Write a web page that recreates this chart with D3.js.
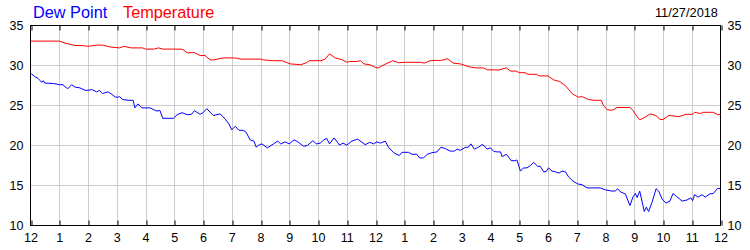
<!DOCTYPE html>
<html>
<head>
<meta charset="utf-8">
<script src="https://cdn.jsdelivr.net/npm/d3@7"></script>
<style>
  body { margin: 0; background: #fff; }
  svg { font-family: "Liberation Sans", Arial, sans-serif; }
  .grid line { stroke: #cccccc; stroke-width: 1; }
</style>
</head>
<body>
<div id="chart"></div>
<script>
// hour labels along the bottom (midnight to midnight)
var hourLabels = ['12','1','2','3','4','5','6','7','8','9','10','11','12','1','2','3','4','5','6','7','8','9','10','11','12'];
var yTicks = [10, 15, 20, 25, 30, 35];
var dateLabel = '11/27/2018';

// temperature readings (hours since midnight, value)
var tempHours = [0, 1.0, 1.2, 1.55, 1.8, 2.0, 2.3, 2.5, 2.8, 3.1, 3.25, 3.5, 3.9, 4.0, 4.3, 4.45, 4.6, 5.2, 5.3, 5.45, 5.7, 5.9, 6.07, 6.25, 6.37, 6.5, 6.7, 7.05, 7.2, 7.3, 8.0, 8.1, 8.4, 8.75, 9.03, 9.4, 9.6, 9.7, 10.1, 10.25, 10.4, 10.6, 10.85, 11.0, 11.1, 11.35, 11.47, 11.6, 11.8, 12.0, 12.1, 12.3, 12.6, 12.8, 13.04, 13.56, 13.7, 13.9, 14.15, 14.25, 14.5, 14.7, 14.95, 15.3, 15.5, 15.75, 15.9, 16.3, 16.55, 16.7, 16.9, 17.0, 17.2, 17.3, 17.6, 17.7, 18.0, 18.2, 18.4, 18.6, 18.85, 19.05, 19.2, 19.4, 19.6, 19.85, 19.93, 20.05, 20.2, 20.3, 20.4, 20.85, 20.95, 21.1, 21.2, 21.4, 21.56, 21.75, 21.9, 22.0, 22.2, 22.35, 22.55, 22.8, 23.03, 23.1, 23.3, 23.4, 23.65, 23.75, 23.9, 24.0];
var tempValues = [33.05, 33.05, 32.8, 32.5, 32.5, 32.4, 32.55, 32.55, 32.3, 32.2, 32.4, 32.2, 32.2, 32.05, 32.05, 32.2, 32.05, 32.05, 32.0, 31.6, 31.6, 31.25, 31.25, 30.7, 30.7, 30.8, 30.95, 30.95, 30.9, 30.8, 30.8, 30.7, 30.6, 30.6, 30.2, 30.1, 30.35, 30.6, 30.6, 30.8, 31.45, 30.95, 30.7, 30.4, 30.5, 30.5, 30.6, 30.2, 30.1, 29.75, 29.7, 30.1, 30.6, 30.35, 30.4, 30.4, 30.3, 30.6, 30.65, 30.6, 30.85, 30.3, 30.2, 29.8, 29.7, 29.7, 29.45, 29.45, 29.7, 29.3, 29.3, 29.1, 29.1, 28.9, 28.9, 28.7, 28.7, 28.2, 28.0, 27.5, 26.45, 26.05, 26.1, 25.75, 25.65, 25.65, 25.0, 24.5, 24.4, 24.5, 24.75, 24.75, 24.4, 23.6, 23.2, 23.6, 23.95, 23.75, 23.25, 23.25, 23.75, 23.7, 23.6, 23.9, 23.9, 24.15, 24.0, 24.15, 24.15, 24.15, 23.85, 23.85];

// dew point readings (hours since midnight, value)
var dewHours = [0, 0.04, 0.15, 0.26, 0.39, 0.44, 0.5, 0.8, 1.0, 1.13, 1.2, 1.3, 1.43, 1.55, 1.72, 1.9, 2.0, 2.13, 2.3, 2.4, 2.5, 2.7, 2.83, 2.95, 3.05, 3.1, 3.2, 3.4, 3.57, 3.63, 3.74, 3.87, 4.05, 4.16, 4.27, 4.4, 4.5, 4.6, 4.85, 4.97, 5.1, 5.27, 5.45, 5.6, 5.7, 5.9, 6.0, 6.13, 6.36, 6.6, 6.77, 6.9, 7.0, 7.12, 7.25, 7.4, 7.5, 7.64, 7.77, 7.85, 7.96, 8.05, 8.24, 8.45, 8.6, 8.7, 8.86, 9.0, 9.17, 9.3, 9.5, 9.63, 9.82, 9.94, 10.08, 10.2, 10.3, 10.4, 10.56, 10.75, 10.87, 11.0, 11.18, 11.38, 11.53, 11.64, 11.8, 11.93, 12.05, 12.17, 12.34, 12.45, 12.63, 12.83, 12.92, 13.15, 13.27, 13.44, 13.53, 13.67, 13.8, 13.96, 14.14, 14.28, 14.43, 14.6, 14.74, 14.84, 14.95, 15.12, 15.23, 15.32, 15.44, 15.59, 15.7, 15.76, 15.88, 16.0, 16.12, 16.23, 16.35, 16.4, 16.55, 16.63, 16.72, 16.86, 16.92, 17.04, 17.15, 17.27, 17.39, 17.5, 17.64, 17.73, 17.85, 17.94, 18.02, 18.14, 18.26, 18.38, 18.49, 18.61, 18.72, 18.87, 19.03, 19.18, 19.36, 19.82, 20.0, 20.23, 20.34, 20.42, 20.52, 20.69, 20.85, 20.96, 21.04, 21.1, 21.19, 21.35, 21.42, 21.5, 21.62, 21.76, 21.85, 21.97, 22.1, 22.24, 22.35, 22.48, 22.67, 22.84, 22.97, 23.03, 23.1, 23.22, 23.36, 23.47, 23.63, 23.75, 23.9, 24.0];
var dewValues = [28.95, 28.95, 28.6, 28.4, 27.9, 28.1, 27.8, 27.75, 27.6, 27.6, 27.35, 27.1, 27.6, 27.3, 27.2, 26.9, 26.9, 27.0, 26.7, 26.9, 26.5, 26.7, 26.4, 26.05, 26.05, 26.1, 25.75, 25.65, 25.65, 24.7, 25.2, 24.7, 24.7, 24.7, 24.5, 24.3, 24.4, 23.4, 23.4, 23.4, 23.85, 24.1, 23.85, 23.9, 24.35, 23.9, 24.1, 24.6, 23.75, 23.95, 23.3, 22.7, 21.95, 22.4, 21.9, 21.9, 21.65, 20.7, 20.55, 19.8, 20.1, 20.2, 19.7, 20.2, 20.55, 20.2, 20.45, 20.2, 20.7, 20.45, 19.9, 20.0, 20.6, 20.2, 20.3, 20.7, 20.9, 20.2, 20.95, 20.05, 20.3, 20.05, 20.55, 20.8, 20.4, 20.1, 20.4, 20.2, 20.45, 20.3, 20.55, 19.8, 19.1, 18.75, 19.15, 19.15, 18.9, 18.9, 18.45, 18.45, 18.9, 19.1, 19.2, 19.8, 19.6, 19.3, 19.3, 19.55, 19.4, 19.75, 19.8, 20.2, 19.55, 19.8, 20.1, 20.05, 19.55, 19.7, 19.25, 19.2, 19.2, 18.6, 18.9, 18.55, 18.1, 18.1, 18.2, 16.8, 17.2, 17.2, 17.5, 17.9, 17.4, 17.4, 16.7, 16.75, 17.2, 16.8, 16.7, 16.55, 16.8, 16.7, 16.05, 15.55, 15.2, 15.1, 14.7, 14.7, 14.45, 14.3, 14.3, 14.6, 14.2, 13.95, 12.5, 13.6, 14.0, 13.5, 14.3, 11.75, 12.3, 11.75, 12.9, 14.6, 14.3, 13.3, 12.8, 13.05, 14.0, 13.6, 13.05, 13.2, 13.45, 13.1, 13.85, 13.55, 13.85, 13.55, 13.95, 14.0, 14.65, 14.6];

var width = 750, height = 250;
var plotLeft = 30.5, plotRight = 720.5, plotTop = 25.5, plotBottom = 225.5;

var svg = d3.select("#chart")
  .append("svg")
  .attr("width", width)
  .attr("height", height);

var x = d3.scaleLinear().domain([0, 24]).range([plotLeft, plotRight]);
var y = d3.scaleLinear().domain([10, 35]).range([plotBottom, plotTop]);
var hours = d3.range(0, 25);

// grid
var grid = svg.append("g").attr("class", "grid");
grid.selectAll(".vg")
  .data(hours.slice(1, 24))
  .enter().append("line")
  .attr("x1", d => Math.round(x(d)) + 0.5).attr("x2", d => Math.round(x(d)) + 0.5)
  .attr("y1", plotTop).attr("y2", plotBottom);
grid.selectAll(".hg")
  .data(yTicks.slice(1, yTicks.length - 1))
  .enter().append("line")
  .attr("x1", plotLeft).attr("x2", plotRight)
  .attr("y1", d => y(d)).attr("y2", d => y(d));

// bottom axis with inward ticks and hour labels
var xAxis = d3.axisBottom(x).tickValues(hours)
  .tickFormat((d, i) => hourLabels[i])
  .tickSizeInner(-5).tickSizeOuter(0).tickPadding(8);
var gx = svg.append("g").attr("transform", "translate(0," + plotBottom + ")").call(xAxis);
gx.select(".domain").remove();
gx.selectAll("line").attr("stroke", "#000")
  .attr("transform", d => "translate(" + (Math.round(x(d)) + 0.5 - x(d)) + ",0)");
gx.selectAll("text").attr("font-size", 12.5).attr("fill", "#000")
  .attr("font-family", "Liberation Sans, Arial, sans-serif");

// top axis ticks only
var xTop = d3.axisTop(x).tickValues(hours).tickFormat("").tickSizeInner(-5).tickSizeOuter(0);
var gt = svg.append("g").attr("transform", "translate(0," + plotTop + ")").call(xTop);
gt.select(".domain").remove();
gt.selectAll("line").attr("stroke", "#000")
  .attr("transform", d => "translate(" + (Math.round(x(d)) + 0.5 - x(d)) + ",0)");

// y labels on both sides
var yl = d3.axisLeft(y).tickValues(yTicks).tickSize(0).tickPadding(7);
var gyl = svg.append("g").attr("transform", "translate(" + plotLeft + ",0)").call(yl);
gyl.select(".domain").remove();
gyl.selectAll("text").attr("font-size", 12.5).attr("fill", "#000")
  .attr("font-family", "Liberation Sans, Arial, sans-serif");
var yr = d3.axisRight(y).tickValues(yTicks).tickSize(0).tickPadding(7);
var gyr = svg.append("g").attr("transform", "translate(" + plotRight + ",0)").call(yr);
gyr.select(".domain").remove();
gyr.selectAll("text").attr("font-size", 12.5).attr("fill", "#000")
  .attr("font-family", "Liberation Sans, Arial, sans-serif");

// frame
svg.append("rect")
  .attr("x", plotLeft).attr("y", plotTop)
  .attr("width", plotRight - plotLeft).attr("height", plotBottom - plotTop)
  .attr("fill", "none").attr("stroke", "#000");

// lines
var line = d3.line().x(d => x(d[0])).y(d => y(d[1]));
svg.append("path")
  .datum(tempHours.map((h, i) => [h, tempValues[i]]))
  .attr("d", line).attr("fill", "none").attr("stroke", "#ff0000").attr("stroke-width", 1);
svg.append("path")
  .datum(dewHours.map((h, i) => [h, dewValues[i]]))
  .attr("d", line).attr("fill", "none").attr("stroke", "#0000ff").attr("stroke-width", 1);

// legend and date
svg.append("text").attr("x", 33).attr("y", 18).attr("font-size", 16.3)
  .attr("fill", "#0000ff").text("Dew Point");
svg.append("text").attr("x", 123).attr("y", 18).attr("font-size", 16.3)
  .attr("fill", "#ff0000").text("Temperature");
svg.append("text").attr("x", 718).attr("y", 17).attr("font-size", 12.8)
  .attr("text-anchor", "end").attr("fill", "#000").text(dateLabel);
</script>
</body>
</html>
